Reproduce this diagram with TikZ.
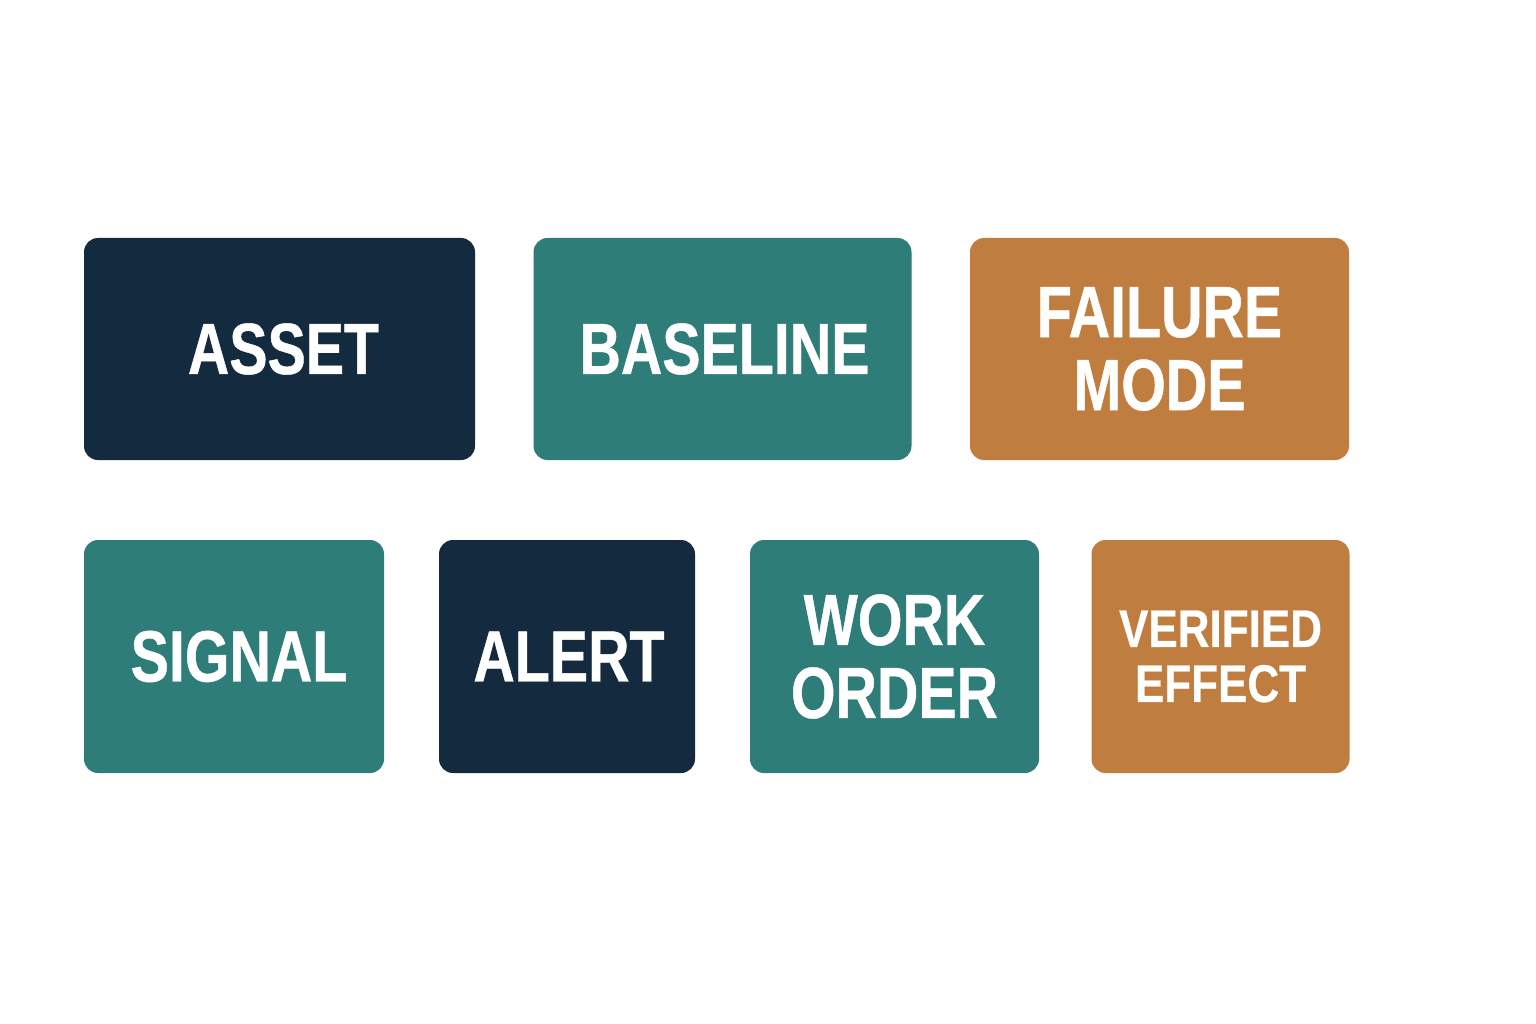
\documentclass[tikz,border=0pt]{standalone}
\usepackage{fontspec}
\newfontfamily\lblfont{Liberation Sans Bold}[FakeStretch=0.79,FakeBold=0.6]
\newfontfamily\lblsmallfont{Liberation Sans Bold}[FakeStretch=0.83,FakeBold=0.5]
\definecolor{navy}{HTML}{142A3E}
\definecolor{teal}{HTML}{2E7D78}
\definecolor{ochre}{HTML}{BF7D3F}
\begin{document}
\begin{tikzpicture}[x=1pt,y=-1pt,
  box/.style={rectangle, rounded corners=14pt, draw=none, text=white, align=center,
    inner sep=0pt, font=\lblfont\fontsize{72.6}{73}\selectfont},
  small/.style={font=\lblsmallfont\fontsize{53}{55}\selectfont}]
\useasboundingbox[fill=white] (0,0) rectangle (1536,1024);
\node[box, fill=navy, minimum width=391pt, minimum height=222pt] (asset) at (279.5,349) {\hspace*{8pt}ASSET};
\node[box, fill=teal, minimum width=378pt, minimum height=222pt] (baseline) at (722.5,349) {\hspace*{4pt}BASELINE};
\node[box, fill=ochre, minimum width=379pt, minimum height=222pt] (failure) at (1159.5,349) {FAILURE\\MODE};
\node[box, fill=teal, minimum width=300pt, minimum height=233pt] (signal) at (234,656.5) {\hspace*{10pt}SIGNAL};
\node[box, fill=navy, minimum width=256pt, minimum height=233pt] (alert) at (567,656.5) {\hspace*{4pt}ALERT};
\node[box, fill=teal, minimum width=289pt, minimum height=233pt] (work) at (894.5,656.5) {WORK\\ORDER};
\node[box, small, fill=ochre, minimum width=258pt, minimum height=233pt] (verified) at (1220.5,656.5) {VERIFIED\\EFFECT};
\end{tikzpicture}
\end{document}
